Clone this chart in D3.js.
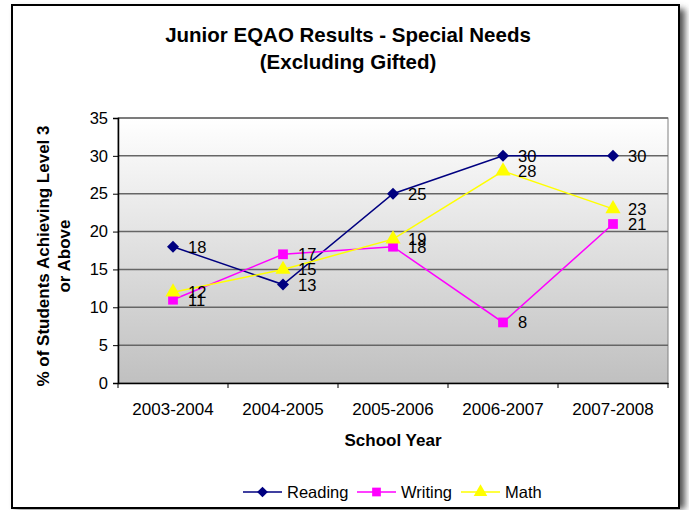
<!DOCTYPE html>
<html><head><meta charset="utf-8">
<script src="https://cdn.jsdelivr.net/npm/d3@7"></script>
<style>body{margin:0;background:#fff}svg{display:block}text{font-family:"Liberation Sans",Arial,sans-serif}</style>
</head><body>
<svg id="c" width="689" height="510"></svg>
<script>
const categories = ["2003-2004","2004-2005","2005-2006","2006-2007","2007-2008"];
const reading = [18,13,25,30,30];
const writing = [11,17,18,8,21];
const math = [12,15,19,28,23];
const yTicks = [0,5,10,15,20,25,30,35];
const seriesNames = ["Reading","Writing","Math"];

const svg = d3.select("#c");
const defs = svg.append("defs");
const f = defs.append("filter").attr("id","sh").attr("x","-5%").attr("y","-5%").attr("width","115%").attr("height","115%");
f.append("feGaussianBlur").attr("stdDeviation",3);
svg.append("rect").attr("x",16).attr("y",9).attr("width",669).attr("height",500).attr("fill","#555").attr("filter","url(#sh)");
svg.append("rect").attr("x",12).attr("y",5).attr("width",667).attr("height",503).attr("fill","#fff").attr("stroke","#000").attr("stroke-width",2);

const L=118,R=668,T=118,B=383;
const x = d3.scaleBand().domain(categories).range([L,R]);
const y = d3.scaleLinear().domain([0,35]).range([B,T]);

const g = defs.append("linearGradient").attr("id","bg").attr("x1",0).attr("y1",0).attr("x2",0).attr("y2",1);
g.append("stop").attr("offset","0%").attr("stop-color","#ffffff");
g.append("stop").attr("offset","100%").attr("stop-color","#c0c0c0");
svg.append("rect").attr("x",L).attr("y",T).attr("width",R-L).attr("height",B-T).attr("fill","url(#bg)").attr("stroke","#808080").attr("stroke-width",1);

svg.append("g").selectAll("line").data(yTicks.filter(d=>d>0)).join("line")
  .attr("x1",L).attr("x2",R).attr("y1",d=>y(d)).attr("y2",d=>y(d))
  .attr("stroke","#666").attr("stroke-width",1.5);

const ya = svg.append("g").attr("transform",`translate(${L},0)`).call(d3.axisLeft(y).tickValues(yTicks).tickSize(5).tickPadding(5));
ya.selectAll("text").attr("font-size",16.5).attr("fill","#000");
ya.select(".domain").attr("stroke","#000").attr("stroke-width",1.5);
ya.selectAll(".tick line").attr("stroke","#000");

const xa = svg.append("g").attr("transform",`translate(0,${B})`).call(d3.axisBottom(x).tickSize(0).tickPadding(20));
xa.selectAll("text").attr("font-size",17).attr("fill","#000");
xa.select(".domain").attr("stroke","#000").attr("stroke-width",1.5);
svg.append("g").selectAll("line").data(d3.range(categories.length+1)).join("line")
  .attr("x1",i=>L+i*x.step()).attr("x2",i=>L+i*x.step()).attr("y1",B).attr("y2",B+5).attr("stroke","#000");

svg.append("text").attr("x",348).attr("y",42).attr("text-anchor","middle").attr("font-size",20.5).attr("font-weight","bold").text("Junior EQAO Results - Special Needs");
svg.append("text").attr("x",348).attr("y",69).attr("text-anchor","middle").attr("font-size",20.5).attr("font-weight","bold").text("(Excluding Gifted)");
svg.append("text").attr("x",393).attr("y",446).attr("text-anchor","middle").attr("font-size",17).attr("font-weight","bold").text("School Year");
const yl = svg.append("text").attr("transform","translate(49,256) rotate(-90)").attr("text-anchor","middle").attr("font-size",17).attr("font-weight","bold");
yl.append("tspan").attr("x",0).attr("dy",0).text("% of Students Achieving Level 3");
yl.append("tspan").attr("x",0).attr("dy",21).text("or Above");

const cx = c=>x(c)+x.bandwidth()/2;
const sym = {Reading:d3.symbolSquare, Writing:d3.symbolSquare, Math:d3.symbolTriangle};
const sz = {Reading:72, Writing:95, Math:100};
const rot = {Reading:45, Writing:0, Math:0};
const col = {Reading:"#000080", Writing:"#ff00ff", Math:"#ffff00"};
const data = {Reading:reading, Writing:writing, Math:math};
const line = d3.line().x((d,i)=>cx(categories[i])).y(d=>y(d));

seriesNames.forEach(s=>{
  svg.append("path").attr("d",line(data[s])).attr("fill","none").attr("stroke",col[s]).attr("stroke-width",1.5);
});
seriesNames.forEach(s=>{
  svg.append("g").selectAll("path").data(data[s]).join("path")
    .attr("d",d3.symbol().type(sym[s]).size(sz[s]))
    .attr("transform",(d,i)=>`translate(${cx(categories[i])},${y(d)}) rotate(${rot[s]})`)
    .attr("fill",col[s]);
});
seriesNames.forEach(s=>{
  svg.append("g").selectAll("text").data(data[s]).join("text")
    .attr("x",(d,i)=>cx(categories[i])+15).attr("y",d=>y(d)+6)
    .attr("font-size",16.5).attr("fill","#000").text(d=>d);
});

const lx = {Reading:243, Writing:357, Math:461};
const ly = 492;
seriesNames.forEach(s=>{
  const gg = svg.append("g");
  gg.append("line").attr("x1",lx[s]).attr("x2",lx[s]+39).attr("y1",ly).attr("y2",ly).attr("stroke",col[s]).attr("stroke-width",1.5);
  gg.append("path").attr("d",d3.symbol().type(sym[s]).size(sz[s]*0.8)).attr("transform",`translate(${lx[s]+19.5},${ly}) rotate(${rot[s]})`).attr("fill",col[s]);
  gg.append("text").attr("x",lx[s]+44).attr("y",ly+6).attr("font-size",16.5).text(s);
});
</script>
</body></html>
